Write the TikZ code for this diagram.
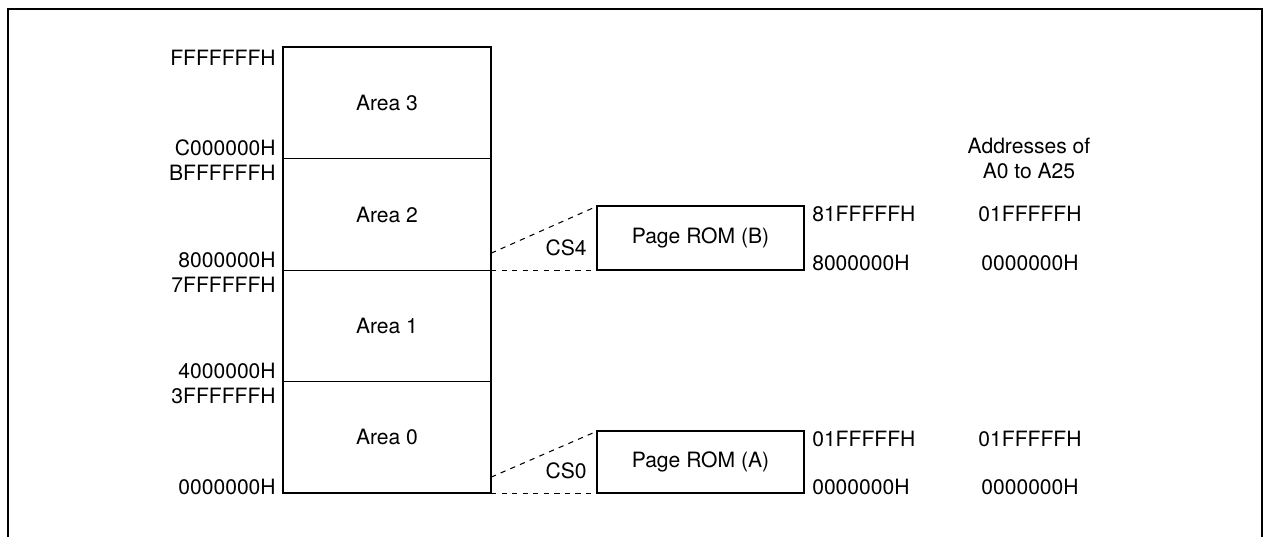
\documentclass[tikz,border=0pt]{standalone}
\usepackage{fontspec}
\setmainfont{TeX Gyre Heros}
\usetikzlibrary{positioning,calc}

\begin{document}
\begin{tikzpicture}[
  x=0.02cm, y=-0.02cm,
  font=\fontsize{12}{14.2}\selectfont,
  area/.style={
    draw,
    line width=0.5pt,
    minimum width=4.16cm,
    minimum height=2.23cm,
    inner sep=0pt,
    outer sep=0pt
  },
  rom/.style={
    draw,
    line width=1.2pt,
    minimum width=4.14cm,
    minimum height=1.26cm,
    inner sep=0pt,
    outer sep=0pt
  },
  addr/.style={inner sep=0pt},
  chip/.style={dashed, line width=0.6pt}
]

  \useasboundingbox (0,0) rectangle (1264,537);

  % outer frame (open at the bottom)
  \draw[line width=1.3pt] (8,537) -- (8,9) -- (1262,9) -- (1262,537);

  % --- address space: four areas ---
  \node[area] (a3) at (387,103) {Area 3};
  \node[area, below=0pt of a3] (a2) {Area 2};
  \node[area, below=0pt of a2] (a1) {Area 1};
  \node[area, below=0pt of a1] (a0) {Area 0};
  \draw[line width=1.2pt] (a3.north west) rectangle (a0.south east);

  % area boundary addresses
  \node[addr, anchor=base east] (l3t) at ($(a3.north west)+(-7,18)$) {FFFFFFFH};
  \node[addr, anchor=base east] (l3b) at ($(a3.south west)+(-7,-3)$) {C000000H};
  \node[addr, anchor=base east] (l2t) at ($(a2.north west)+(-7,22)$) {BFFFFFFH};
  \node[addr, anchor=base east] (l2b) at ($(a2.south west)+(-7,-3)$) {8000000H};
  \node[addr, anchor=base east] (l1t) at ($(a1.north west)+(-7,22)$) {7FFFFFFH};
  \node[addr, anchor=base east] (l1b) at ($(a1.south west)+(-7,-3)$) {4000000H};
  \node[addr, anchor=base east] (l0t) at ($(a0.north west)+(-7,22)$) {3FFFFFFH};
  \node[addr, anchor=base east] (l0b) at ($(a0.south west)+(-7,1)$) {0000000H};

  % --- page ROMs ---
  \node[rom, anchor=south west, minimum height=1.28cm] (romb) at ($(a2.south east)+(106,0)$) {Page ROM (B)};
  \node[rom, anchor=south west, minimum height=1.24cm] (roma) at ($(a0.south east)+(106,0)$) {Page ROM (A)};

  % chip select fans
  \coordinate (cs4top) at ($(a2.south east)+(0,-17)$);
  \coordinate (cs0top) at ($(a0.south east)+(0,-16)$);
  \draw[chip] (cs4top) -- (romb.north west);
  \draw[chip] (a2.south east) -- (romb.south west);
  \draw[chip] (cs0top) -- (roma.north west);
  \draw[chip] (a0.south east) -- (roma.south west);
  \node[addr, anchor=east] (cs4) at ($(romb.south west)+(-10,-22)$) {CS4};
  \node[addr, anchor=east] (cs0) at ($(roma.south west)+(-10,-22)$) {CS0};

  % ROM addresses
  \node[addr, anchor=base west] (rbt) at ($(romb.north east)+(8,15)$) {81FFFFFH};
  \node[addr, anchor=base west] (rbb) at ($(romb.south east)+(8,0)$) {8000000H};
  \node[addr, anchor=base west] (rat) at ($(roma.north east)+(8,15)$) {01FFFFFH};
  \node[addr, anchor=base west] (rab) at ($(roma.south east)+(8,1)$) {0000000H};

  % A0--A25 column
  \coordinate (col) at (1030,0);
  \node[addr, align=center] (head) at (1029,158) {Addresses of\\A0 to A25};
  \node[addr, anchor=base] (pbt) at (rbt.base -| col) {01FFFFFH};
  \node[addr, anchor=base] (pbb) at (rbb.base -| col) {0000000H};
  \node[addr, anchor=base] (pat) at (rat.base -| col) {01FFFFFH};
  \node[addr, anchor=base] (pab) at (rab.base -| col) {0000000H};

\end{tikzpicture}
\end{document}
